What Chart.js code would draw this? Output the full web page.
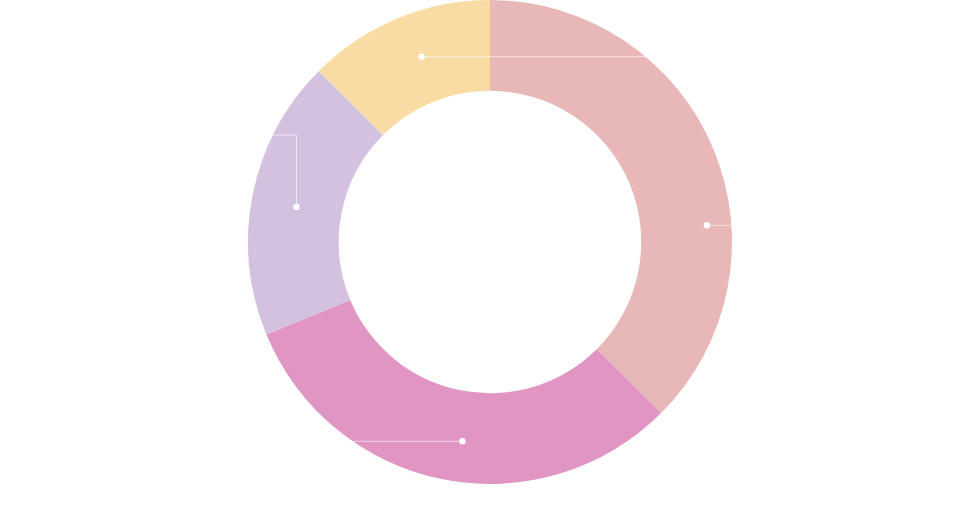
<!DOCTYPE html>
<html>
<head>
<meta charset="utf-8">
<script src="https://cdn.jsdelivr.net/npm/chart.js@4"></script>
<style>
  html, body { margin: 0; padding: 0; background: #fff; }
  #wrap { width: 980px; height: 532px; }
</style>
</head>
<body>
<div id="wrap"><canvas id="donut"></canvas></div>
<script>
// categories and values
var categories = ['A', 'B', 'C', 'D'];
var values = [30, 25, 15, 10];
var colors = ['#e8b7b7', '#e095c2', '#d4c1e0', '#f8dca3'];

// where each leader line starts inside its slice (t = along the arc, r = across the ring)
var leaders = [
    { t: 0.634, r: 0.73, dir: 1 },
    { t: 0.47, r: 0.55, dir: -1 },
    { t: 0.485, r: 0.50, dir: -1, up: 72 },
    { t: 0.55, r: 0.51, dir: 1 }
];

var leaderLines = {
    id: 'leaderLines',
    afterDatasetsDraw: function (chart) {
        var c = chart.ctx;
        var arcs = chart.getDatasetMeta(0).data;
        c.save();
        arcs.forEach(function (arc, i) {
            var L = leaders[i];
            if (!L) return;
            var a = arc.startAngle + L.t * (arc.endAngle - arc.startAngle);
            var rr = arc.innerRadius + L.r * (arc.outerRadius - arc.innerRadius);
            var px = arc.x + rr * Math.cos(a);
            var py = arc.y + rr * Math.sin(a);
            var ly = py - (L.up || 0);
            var dy = ly - arc.y;
            var ex = arc.x + L.dir * Math.sqrt(Math.max(arc.outerRadius * arc.outerRadius - dy * dy, 0));

            c.strokeStyle = 'rgba(255,255,255,0.6)';
            c.lineWidth = 1;
            c.beginPath();
            c.moveTo(px, py);
            c.lineTo(px, ly);
            c.lineTo(ex, ly);
            c.stroke();

            c.fillStyle = '#ffffff';
            c.beginPath();
            c.arc(px, py, 3.2, 0, Math.PI * 2);
            c.fill();
        });
        c.restore();
    }
};

var ctx = document.getElementById('donut').getContext('2d');
var chart = new Chart(ctx, {
    type: 'doughnut',
    data: {
        labels: categories,
        datasets: [{
            data: values,
            backgroundColor: colors,
            borderWidth: 0,
            hoverOffset: 0
        }]
    },
    options: {
        responsive: true,
        maintainAspectRatio: false,
        animation: false,
        cutout: '62.5%',
        layout: { padding: { top: 0, bottom: 48 } },
        plugins: {
            legend: { display: false },
            tooltip: { enabled: false }
        }
    },
    plugins: [leaderLines]
});
</script>
</body>
</html>
